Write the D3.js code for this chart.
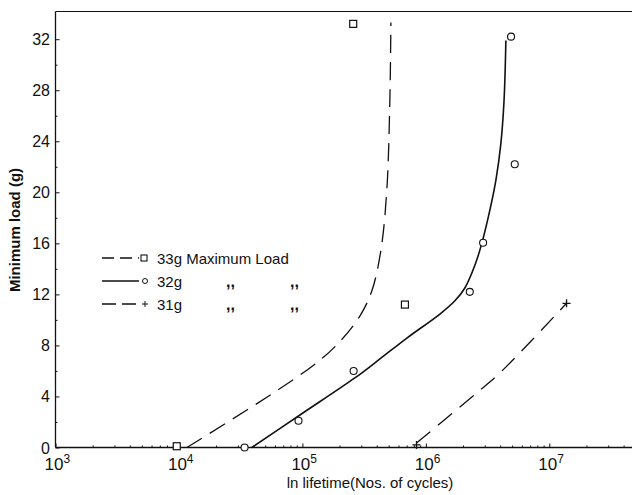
<!DOCTYPE html>
<html>
<head>
<meta charset="utf-8">
<script src="https://cdn.jsdelivr.net/npm/d3@7"></script>
<style>
    body { margin: 0; background: #fff; }
    svg { display: block; }
    text { font-family: "Liberation Sans", "DejaVu Sans", sans-serif; fill: #111; }
</style>
</head>
<body>
<svg id="chart"></svg>
<script>
// Minimum load vs lifetime - three maximum load series
const xTickValues = [1e3, 1e4, 1e5, 1e6, 1e7];
const xTickExponents = ['3', '4', '5', '6', '7'];
const yTickValues = [0, 4, 8, 12, 16, 20, 24, 28, 32];

// measured points [cycles, minimum load]
const squarePoints = [[9.6e3, 0.1], [2.58e5, 33.2], [6.77e5, 11.2]];
const circlePoints = [[3.4e4, 0], [9.3e4, 2.1], [2.6e5, 6.0], [2.27e6, 12.2], [2.91e6, 16.05], [5.25e6, 22.2], [4.9e6, 32.2]];
const plusPoints = [[8.4e5, 0.2], [1.38e7, 11.3]];

// fitted curves
const curve33 = [[1.16e4, 0], [5.46e4, 4.1], [1.33e5, 6.7], [2.01e5, 8.3], [2.92e5, 10.3], [3.66e5, 12.3], [4.33e5, 15.5], [4.83e5, 20.2], [5.11e5, 27.2], [5.21e5, 33.3]];
const curve32 = [[3.9e4, 0], [9.55e4, 2.55], [2.66e5, 5.45], [4.25e5, 6.94], [7.02e5, 8.58], [1.3e6, 10.46], [1.72e6, 11.5], [2.07e6, 12.5], [2.5e6, 14.3], [2.84e6, 16.0], [3.3e6, 18.6], [3.7e6, 21.0], [4.05e6, 23.8], [4.3e6, 27.2], [4.45e6, 31.9]];
const curve31 = [[8.4e5, 0.35], [2.56e6, 4.25], [3.98e6, 5.85], [1.38e7, 11.3]];

const legendLoads = ['33g', '32g', '31g'];

const width = 634;
const height = 495;

const svg = d3.select('#chart').attr('width', width).attr('height', height);

const x = d3.scaleLog().domain([1e3, Math.pow(10, 7.67)]).range([55.5, 632]);
const y = d3.scaleLinear().domain([0, 34.17]).range([447.5, 11.5]);

// frame: left axis, bottom axis, top line
svg.append('line').attr('x1', x.range()[0]).attr('x2', x.range()[0])
    .attr('y1', y.range()[0]).attr('y2', y.range()[1])
    .attr('stroke', '#111').attr('stroke-width', 1.3);
svg.append('line').attr('x1', x.range()[0]).attr('x2', x.range()[1])
    .attr('y1', y.range()[0]).attr('y2', y.range()[0])
    .attr('stroke', '#111').attr('stroke-width', 1.3);
svg.append('line').attr('x1', x.range()[0]).attr('x2', x.range()[1])
    .attr('y1', y.range()[1]).attr('y2', y.range()[1])
    .attr('stroke', '#111').attr('stroke-width', 1.2);

// y axis ticks (inward) and labels
const yAxis = d3.axisRight(y).tickValues(d3.range(0, 34, 2)).tickSize(3).tickFormat('');
svg.append('g').attr('transform', `translate(${x.range()[0]},0)`).call(yAxis)
    .call(g => g.select('.domain').remove())
    .call(g => g.selectAll('.tick line').attr('stroke', '#111')
        .attr('x2', d => d % 4 === 0 ? 4 : 2));

svg.append('g').selectAll('text')
    .data(yTickValues)
    .enter()
    .append('text')
    .attr('x', 50)
    .attr('y', d => y(d) + 6)
    .attr('text-anchor', 'end')
    .style('font-size', '16px')
    .text(d => d);

// x axis ticks (inward, log minor ticks)
const minorX = [];
for (let e = 3; e <= 7; e++) {
    for (let m = 1; m <= 9; m++) {
        const v = m * Math.pow(10, e);
        if (v <= x.domain()[1]) minorX.push(v);
    }
}
const xAxis = d3.axisTop(x).tickValues(minorX).tickSize(3).tickFormat('');
svg.append('g').attr('transform', `translate(0,${y.range()[0]})`).call(xAxis)
    .call(g => g.select('.domain').remove())
    .call(g => g.selectAll('.tick line').attr('stroke', '#111')
        .attr('y2', d => xTickValues.includes(d) ? -4 : -2));

const xLabels = svg.append('g').selectAll('text')
    .data(xTickValues)
    .enter()
    .append('text')
    .attr('x', d => x(d) - 11)
    .attr('y', 470)
    .style('font-size', '17px');
xLabels.append('tspan').text('10');
xLabels.append('tspan')
    .attr('dy', -7)
    .style('font-size', '12px')
    .text((d, i) => xTickExponents[i]);

// axis titles
svg.append('text')
    .attr('x', 370)
    .attr('y', 488)
    .attr('text-anchor', 'middle')
    .style('font-size', '15px')
    .text('ln lifetime(Nos. of cycles)');

svg.append('text')
    .attr('transform', 'translate(20,230) rotate(-90)')
    .attr('text-anchor', 'middle')
    .style('font-size', '15px')
    .style('font-weight', 'bold')
    .text('Minimum load (g)');

// curves
const line = d3.line()
    .x(d => x(d[0]))
    .y(d => y(d[1]))
    .curve(d3.curveCatmullRom.alpha(0.5));

const curves = [
    { data: curve33, dash: '18,9', width: 1.3 },
    { data: curve32, dash: null, width: 1.6 },
    { data: curve31, dash: '18,10', width: 1.3 }
];
svg.append('g').selectAll('path')
    .data(curves)
    .enter()
    .append('path')
    .attr('d', d => line(d.data))
    .attr('fill', 'none')
    .attr('stroke', '#111')
    .attr('stroke-width', d => d.width)
    .attr('stroke-dasharray', d => d.dash);

// markers
svg.append('g').selectAll('rect')
    .data(squarePoints)
    .enter()
    .append('rect')
    .attr('x', d => x(d[0]) - 3.5)
    .attr('y', d => y(d[1]) - 3.5)
    .attr('width', 7)
    .attr('height', 7)
    .attr('fill', '#fff')
    .attr('stroke', '#111')
    .attr('stroke-width', 1.2);

svg.append('g').selectAll('circle')
    .data(circlePoints)
    .enter()
    .append('circle')
    .attr('cx', d => x(d[0]))
    .attr('cy', d => y(d[1]))
    .attr('r', 3.5)
    .attr('fill', '#fff')
    .attr('stroke', '#111')
    .attr('stroke-width', 1.1);

svg.append('g').selectAll('path')
    .data(plusPoints)
    .enter()
    .append('path')
    .attr('d', d => {
        const cx = x(d[0]), cy = y(d[1]);
        return `M${cx - 4},${cy}H${cx + 4}M${cx},${cy - 4}V${cy + 4}`;
    })
    .attr('stroke', '#111')
    .attr('stroke-width', 1.3);

// legend
const legendY = [258, 281, 304];
const legendDash = ['12,6', null, '14,6'];
const legend = svg.append('g');
legendLoads.forEach((load, i) => {
    const ly = legendY[i];
    legend.append('line')
        .attr('x1', 102).attr('x2', 139)
        .attr('y1', ly).attr('y2', ly)
        .attr('stroke', '#111').attr('stroke-width', 1.3)
        .attr('stroke-dasharray', legendDash[i]);
    if (i === 0) {
        legend.append('rect').attr('x', 141).attr('y', ly - 3).attr('width', 6).attr('height', 6)
            .attr('fill', '#fff').attr('stroke', '#111').attr('stroke-width', 1.1);
    } else if (i === 1) {
        legend.append('circle').attr('cx', 145).attr('cy', ly).attr('r', 2.5)
            .attr('fill', '#fff').attr('stroke', '#111').attr('stroke-width', 1);
    } else {
        legend.append('path').attr('d', `M${142},${ly}H${148}M${145},${ly - 3}V${ly + 3}`)
            .attr('stroke', '#111').attr('stroke-width', 1);
    }
    legend.append('text')
        .attr('x', 157).attr('y', ly + 6)
        .style('font-size', '15px')
        .text(i === 0 ? `${load} Maximum Load` : load);
    if (i > 0) {
        legend.append('text').attr('x', 226).attr('y', ly + 6)
            .style('font-size', '16px').style('font-weight', 'bold').text(',,');
        legend.append('text').attr('x', 290).attr('y', ly + 6)
            .style('font-size', '16px').style('font-weight', 'bold').text(',,');
    }
});
</script>
</body>
</html>
